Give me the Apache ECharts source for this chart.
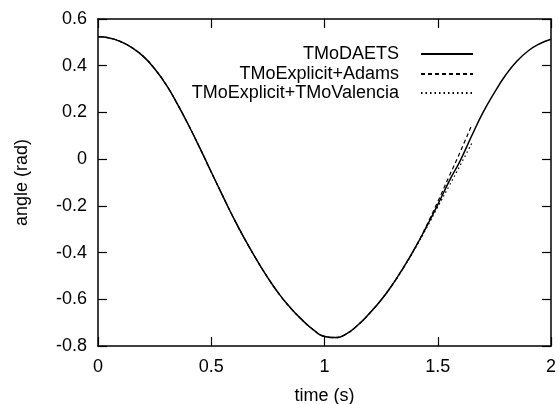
<!DOCTYPE html>
<html>
<head>
<meta charset="utf-8">
<script src="https://cdn.jsdelivr.net/npm/echarts@6/dist/echarts.min.js"></script>
<style>
  html, body { margin: 0; padding: 0; background: #fff; }
  #chart { width: 560px; height: 404px; }
</style>
</head>
<body>
<div id="chart"></div>
<script>
// values (every 0.05 s)
const timeDaets = [0, 0.05, 0.1, 0.15, 0.2, 0.25, 0.3, 0.35, 0.4, 0.45, 0.5, 0.55, 0.6, 0.65, 0.7, 0.75, 0.8, 0.85, 0.9, 0.95,
  1.0, 1.05, 1.1, 1.15, 1.2, 1.25, 1.3, 1.35, 1.4, 1.45, 1.5, 1.55, 1.6, 1.65, 1.7, 1.75, 1.8, 1.85, 1.9, 1.95, 2.0]
const angleDaets = [0.524, 0.519, 0.503, 0.477, 0.44, 0.387, 0.32, 0.237, 0.145, 0.047, -0.055, -0.156, -0.255, -0.346, -0.43, -0.508, -0.578, -0.637, -0.687, -0.73,
  -0.759, -0.764, -0.746, -0.708, -0.659, -0.603, -0.537, -0.462, -0.38, -0.29, -0.195, -0.095, -0.005, 0.1, 0.2, 0.285, 0.36, 0.42, 0.464, 0.494, 0.513]

const timeExplicit = [0, 0.05, 0.1, 0.15, 0.2, 0.25, 0.3, 0.35, 0.4, 0.45, 0.5, 0.55, 0.6, 0.65, 0.7, 0.75, 0.8, 0.85, 0.9, 0.95,
  1.0, 1.05, 1.1, 1.15, 1.2, 1.25, 1.3, 1.35, 1.4, 1.45, 1.5, 1.55, 1.6, 1.65]
const angleAdams = [0.524, 0.519, 0.503, 0.477, 0.44, 0.387, 0.32, 0.237, 0.145, 0.047, -0.055, -0.156, -0.255, -0.346, -0.43, -0.508, -0.578, -0.637, -0.687, -0.73,
  -0.759, -0.764, -0.746, -0.708, -0.659, -0.603, -0.537, -0.462, -0.379, -0.285, -0.182, -0.074, 0.033, 0.146]
const angleValencia = [0.524, 0.519, 0.503, 0.477, 0.44, 0.387, 0.32, 0.237, 0.145, 0.047, -0.055, -0.156, -0.255, -0.346, -0.43, -0.508, -0.578, -0.637, -0.687, -0.73,
  -0.759, -0.764, -0.746, -0.708, -0.659, -0.603, -0.538, -0.464, -0.383, -0.296, -0.205, -0.115, -0.025, 0.068]

const xTicks = { min: 0, max: 2, step: 0.5 }
const yTicks = { min: -0.8, max: 0.6, step: 0.2 }
const seriesNames = ['TMoDAETS', 'TMoExplicit+Adams', 'TMoExplicit+TMoValencia']

const font = 'Liberation Sans, Arial, Helvetica, sans-serif'

function pairs(xs, ys) {
  return xs.map((x, i) => [x, ys[i]])
}

const chart = echarts.init(document.getElementById('chart'), null, { renderer: 'canvas' })

const axisCommon = {
  type: 'value',
  axisLine: { show: true, onZero: false, lineStyle: { color: '#000', width: 1.5 } },
  axisTick: { show: true, inside: true, length: 9, lineStyle: { color: '#000', width: 1.2 } },
  splitLine: { show: false }
}

// one legend per row so every row is right aligned like gnuplot's key
function legendRow(name, top) {
  return {
    data: [name],
    right: 81,
    top: top,
    align: 'right',
    itemWidth: 52,
    itemHeight: 12,
    selectedMode: false,
    itemStyle: { opacity: 0 },
    textStyle: { fontFamily: font, fontSize: 18, color: '#000', padding: [0, 17, 0, 0] }
  }
}

chart.setOption({
  animation: false,
  grid: { left: 98, right: 9, top: 19, bottom: 58, containLabel: false, outerBoundsMode: 'none' },
  legend: [
    legendRow(seriesNames[0], 40),
    legendRow(seriesNames[1], 60),
    legendRow(seriesNames[2], 79)
  ],
  xAxis: [
    Object.assign({}, axisCommon, {
      min: xTicks.min, max: xTicks.max, interval: xTicks.step,
      position: 'bottom',
      name: 'time (s)', nameLocation: 'middle', nameGap: 41,
      nameTextStyle: { fontFamily: font, fontSize: 18, color: '#000' },
      axisLabel: { fontFamily: font, fontSize: 18, color: '#000', margin: 12 }
    }),
    Object.assign({}, axisCommon, {
      min: xTicks.min, max: xTicks.max, interval: xTicks.step,
      position: 'top',
      axisLabel: { show: false }
    })
  ],
  yAxis: [
    Object.assign({}, axisCommon, {
      min: yTicks.min, max: yTicks.max, interval: yTicks.step,
      position: 'left',
      name: 'angle (rad)', nameLocation: 'middle', nameGap: 67,
      nameTextStyle: { fontFamily: font, fontSize: 18, color: '#000' },
      axisLabel: { fontFamily: font, fontSize: 18, color: '#000', margin: 11 }
    }),
    Object.assign({}, axisCommon, {
      min: yTicks.min, max: yTicks.max, interval: yTicks.step,
      position: 'right',
      axisLabel: { show: false }
    })
  ],
  series: [
    {
      name: seriesNames[0], type: 'line', smooth: 0.5, symbol: 'none',
      data: pairs(timeDaets, angleDaets),
      lineStyle: { color: '#000', width: 1.5, type: 'solid' },
      itemStyle: { color: '#000' }
    },
    {
      name: seriesNames[1], type: 'line', smooth: 0.5, symbol: 'none',
      data: pairs(timeExplicit, angleAdams),
      lineStyle: { color: '#000', width: 1.2, type: [4, 3] },
      itemStyle: { color: '#000' }
    },
    {
      name: seriesNames[2], type: 'line', smooth: 0.5, symbol: 'none',
      data: pairs(timeExplicit, angleValencia),
      lineStyle: { color: '#000', width: 1.2, type: [1.5, 3] },
      itemStyle: { color: '#000' }
    }
  ]
})
</script>
</body>
</html>
